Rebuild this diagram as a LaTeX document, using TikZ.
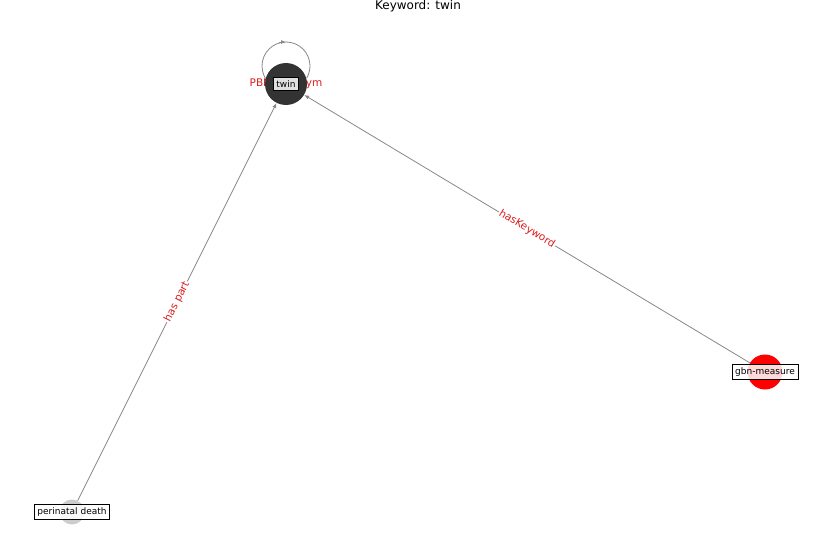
\documentclass[tikz,border=0pt]{standalone}
\usepackage{fontspec}
\setmainfont{DejaVu Sans}
\usepackage{xcolor}
\usepackage{tikz}
\usetikzlibrary{arrows.meta, positioning}
\definecolor{edgegray}{RGB}{136,136,136}
\definecolor{labelred}{RGB}{220,30,30}
\definecolor{darknode}{RGB}{51,51,51}
\definecolor{lightnode}{RGB}{204,204,204}
\tikzset{vertex/.style={circle,inner sep=0pt,draw=none},
         lbl/.style={rectangle,draw=black,line width=0.6pt,fill=white,fill opacity=0.85,text opacity=1,inner sep=3pt,font=\fontsize{9}{10}\selectfont},
         elabel/.style={text=labelred,fill=white,inner sep=1pt,rounded corners=2pt,font=\fontsize{10.5}{11}\selectfont},
         loopline/.style={draw=edgegray,line width=0.8pt},
         edge/.style={-{Latex[length=5pt,width=4pt]},draw=edgegray,line width=0.8pt}}

\begin{document}
\begin{tikzpicture}[x=1pt,y=-1pt]
    \useasboundingbox (0,0) rectangle (837,559);
    % Title
    \node (title) at (418,6) [font=\fontsize{12}{13}\selectfont]{Keyword: twin};
    % Self-loop on twin
    \coordinate (loopc) at (286,66);
    \draw[loopline] (loopc) circle (24pt);
    \draw[edge] ([xshift=-7pt,yshift=24pt]loopc) -- ([xshift=0pt,yshift=24pt]loopc);
    \node (loopname) at (286,84) [elabel]{PBN synonym};
    % Nodes
    \node (twin) at (286,84) [vertex,fill=darknode,minimum size=42pt]{};
    \node (measure) at (765,372) [vertex,fill=red,minimum size=35pt]{};
    \node (death) at (72,512) [vertex,fill=lightnode,minimum size=25pt]{};
    % Edges
    \draw[edge] (death) -- node[elabel,sloped]{has part} (twin);
    \draw[edge] (measure) -- node[elabel,sloped]{hasKeyword} (twin);
    % Node labels
    \node (twinlbl) at (twin) [lbl]{twin};
    \node (measurelbl) at (measure) [lbl]{gbn-measure};
    \node (deathlbl) at (death) [lbl]{perinatal death};
  \end{tikzpicture}
\end{document}
